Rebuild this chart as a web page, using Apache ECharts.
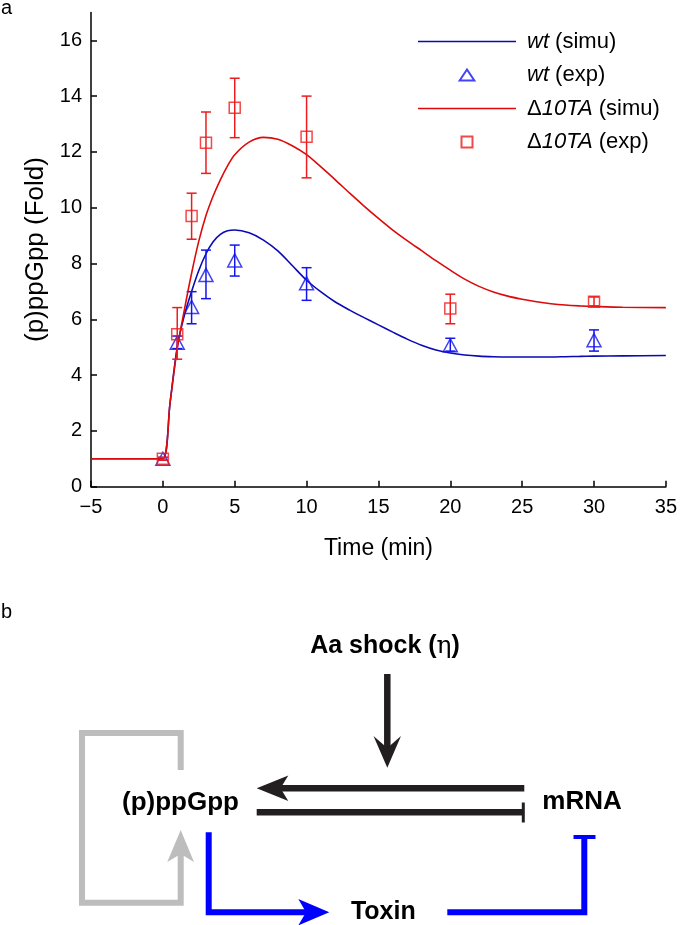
<!DOCTYPE html>
<html>
<head>
<meta charset="utf-8">
<script src="https://cdn.jsdelivr.net/npm/echarts@6/dist/echarts.min.js"></script>
<style>
html,body{margin:0;padding:0;background:#fff;}
#chart{width:680px;height:925px;}
</style>
</head>
<body>
<div id="chart"></div>
<script>
// ---------- data ----------
const simTime = [-5, -1, 0, 0.5, 1, 1.5, 2, 2.5, 3, 3.5, 4, 4.5, 5, 6, 7, 8, 9, 10, 11, 12, 13, 14, 15, 16, 17, 18, 19, 20, 21, 22, 23, 24, 25, 26, 27, 28, 29, 30, 32, 35];
const wtSimu = [1, 1, 1, 3.0, 5.0, 6.15, 7.0, 7.75, 8.35, 8.78, 9.04, 9.17, 9.2, 9.1, 8.84, 8.45, 7.93, 7.4, 6.98, 6.62, 6.33, 6.06, 5.8, 5.54, 5.29, 5.07, 4.9, 4.79, 4.72, 4.68, 4.66, 4.65, 4.65, 4.65, 4.65, 4.66, 4.67, 4.68, 4.69, 4.7];
const taSimu = [1, 1, 1, 3.0, 4.95, 6.35, 7.65, 8.8, 9.72, 10.42, 11.0, 11.5, 11.9, 12.35, 12.52, 12.45, 12.22, 11.9, 11.46, 11.0, 10.52, 10.06, 9.62, 9.2, 8.82, 8.46, 8.1, 7.76, 7.44, 7.18, 6.98, 6.83, 6.72, 6.63, 6.56, 6.51, 6.48, 6.46, 6.43, 6.42];

const expTime = [0, 1, 2, 3, 5, 10, 20, 30];
const wtExp   = [1.0, 5.16, 6.44, 7.59, 8.11, 7.29, 5.07, 5.25];
const wtLow   = [0.95, 4.95, 5.84, 6.74, 7.55, 6.68, 4.86, 4.86];
const wtHigh  = [1.05, 5.4, 6.99, 8.48, 8.66, 7.85, 5.32, 5.62];
const taExp   = [1.0, 5.46, 9.70, 12.33, 13.58, 12.54, 6.39, 6.63];
const taLow   = [0.95, 4.57, 8.87, 11.23, 12.51, 11.07, 5.84, 6.48];
const taHigh  = [1.05, 6.42, 10.52, 13.43, 14.64, 14.0, 6.9, 6.8];

const xTicks = [-5, 0, 5, 10, 15, 20, 25, 30, 35];
const yTicks = [0, 2, 4, 6, 8, 10, 12, 14, 16];

const seriesNames = ['wt (simu)', 'wt (exp)', '\u039410TA (simu)', '\u039410TA (exp)'];

// ---------- styles ----------
const FONT = '"Liberation Sans", Arial, Helvetica, sans-serif';
const BLUE_LINE = '#0a0ab4';
const BLUE_MK = '#1414f0';
const RED_LINE = '#dc0a0a';
const RED_MK = '#ee1c1c';

const zip2 = (a, b) => a.map((v, i) => [v, b[i]]);
const zip3 = (a, b, c) => a.map((v, i) => [v, b[i], c[i]]);

function errRender(color) {
  return function (params, api) {
    const x = api.value(0), lo = api.value(1), hi = api.value(2);
    const p1 = api.coord([x, lo]);
    const p2 = api.coord([x, hi]);
    const w = 5;
    const st = { stroke: color, lineWidth: 1.5, fill: null };
    return {
      type: 'group',
      children: [
        { type: 'line', shape: { x1: p1[0], y1: p1[1], x2: p2[0], y2: p2[1] }, style: st },
        { type: 'line', shape: { x1: p1[0] - w, y1: p1[1], x2: p1[0] + w, y2: p1[1] }, style: st },
        { type: 'line', shape: { x1: p2[0] - w, y1: p2[1], x2: p2[0] + w, y2: p2[1] }, style: st }
      ]
    };
  };
}

// ---------- diagram (panel b) ----------
const GRAY = '#bdbdbd', BLK = '#231f20', DBLUE = '#0000ff';
function ln(x1, y1, x2, y2, color, w) {
  return { type: 'line', shape: { x1, y1, x2, y2 }, style: { stroke: color, lineWidth: w } };
}
function pl(points, color, w) {
  return { type: 'polyline', shape: { points }, style: { stroke: color, lineWidth: w, fill: null, lineJoin: 'miter' } };
}
function pg(points, color) {
  return { type: 'polygon', shape: { points }, style: { fill: color } };
}
function tx(text, x, y, size, extra) {
  return { type: 'text', style: Object.assign({ text, x, y, fontSize: size, fontWeight: 'bold', fontFamily: FONT, fill: '#000', align: 'center', verticalAlign: 'middle' }, extra || {}) };
}

const diagram = [
  { type: 'text', style: { text: 'a', x: 1, y: 8, fontSize: 20, fontFamily: FONT, fill: '#000', verticalAlign: 'middle' } },
  { type: 'text', style: { text: 'b', x: 1, y: 612, fontSize: 20, fontFamily: FONT, fill: '#000', verticalAlign: 'middle' } },
  pl([[180.7, 770], [180.7, 733], [82, 733], [82, 902.7], [180.7, 902.7], [180.7, 852]], GRAY, 6),
  pg([[180.7, 830], [194, 862], [180.7, 854], [167.3, 862]], GRAY),
  pl([[208.7, 832.3], [208.7, 912.2], [306, 912.2]], DBLUE, 6),
  pg([[329.3, 912.2], [298.3, 899], [306, 912.2], [298.3, 925.4]], DBLUE),
  pl([[447.3, 912.2], [584.3, 912.2], [584.3, 837]], DBLUE, 6),
  ln(573.5, 837, 595.5, 837, DBLUE, 4),
  ln(280, 788.3, 524.3, 788.3, BLK, 6.5),
  pg([[256.7, 788.3], [288.3, 775.5], [280.5, 788.3], [288.3, 801]], BLK),
  ln(256.7, 812.3, 523.3, 812.3, BLK, 6.5),
  ln(523.3, 802.5, 523.3, 822.5, BLK, 3),
  ln(387.3, 674, 387.3, 750, BLK, 6.5),
  pg([[387.3, 767.7], [373.5, 736], [387.3, 748], [401, 736]], BLK),
  {
    type: 'text',
    style: {
      text: '{b|Aa shock (}{e|\u03b7}{b|)}', x: 385, y: 646, align: 'center', verticalAlign: 'middle',
      rich: {
        b: { fontSize: 25, fontWeight: 'bold', fontFamily: FONT, fill: '#000' },
        e: { fontSize: 25, fontWeight: 'normal', fontFamily: '"DejaVu Serif", "Liberation Serif", serif', fill: '#000' }
      }
    }
  },
  tx('(p)ppGpp', 180.5, 803.3, 26),
  tx('mRNA', 582, 801.7, 26),
  tx('Toxin', 383.3, 911.7, 25)
];

// ---------- chart ----------
const chart = echarts.init(document.getElementById('chart'), null, { renderer: 'canvas' });

const LINE_ICON = 'path://M0,0 L98,0 L98,1.6 L0,1.6 Z';
const TRI_ICON = 'path://M0,12 L8,0 L16,12 Z';
const SQ_ICON = 'path://M0,0 L11,0 L11,11 L0,11 Z';

const option = {
  animation: false,
  backgroundColor: '#fff',
  textStyle: { fontFamily: FONT },
  grid: { left: 91, right: 11, top: 12.4, bottom: 438.3, containLabel: false },
  legend: {
    data: [
      { name: seriesNames[0], icon: LINE_ICON, itemStyle: { color: BLUE_LINE, borderWidth: 0 } },
      { name: seriesNames[1], icon: TRI_ICON },
      { name: seriesNames[2], icon: LINE_ICON, itemStyle: { color: RED_LINE, borderWidth: 0 } },
      { name: seriesNames[3], icon: SQ_ICON }
    ],
    orient: 'vertical',
    left: 418,
    top: 28.5,
    padding: 0,
    itemWidth: 98,
    itemHeight: 11,
    itemGap: 7.5,
    selectedMode: false,
    symbolKeepAspect: true,
    textStyle: {
      fontSize: 22, color: '#000', fontFamily: FONT, lineHeight: 26, padding: [0, 0, 0, 6],
      rich: {
        i: { fontSize: 22, fontStyle: 'italic', color: '#000', fontFamily: FONT, lineHeight: 26 },
        n: { fontSize: 22, color: '#000', fontFamily: FONT, lineHeight: 26 }
      }
    },
    formatter: function (name) {
      if (name.indexOf('wt') === 0) return '{i|wt}{n|' + name.slice(2) + '}';
      return '{n|\u0394}{i|10TA}{n|' + name.slice(5) + '}';
    }
  },
  xAxis: {
    type: 'value',
    min: -5, max: 35, interval: 5,
    name: 'Time (min)',
    nameLocation: 'middle',
    nameGap: 50,
    nameTextStyle: { fontSize: 23, color: '#000', fontFamily: FONT },
    axisLine: { show: true, onZero: false, lineStyle: { color: '#000', width: 1.5 } },
    axisTick: { show: true, inside: true, length: 6, lineStyle: { color: '#000', width: 1.5 }, customValues: xTicks },
    axisLabel: {
      fontSize: 20, color: '#000', fontFamily: FONT, margin: 11, customValues: xTicks,
      formatter: v => (v < 0 ? '\u2212' + Math.abs(v) : String(v))
    },
    splitLine: { show: false }
  },
  yAxis: {
    type: 'value',
    min: 0, max: 17, interval: 2,
    name: '(p)ppGpp (Fold)',
    nameLocation: 'middle',
    nameGap: 42,
    nameTextStyle: { fontSize: 26, color: '#000', fontFamily: FONT },
    axisLine: { show: true, onZero: false, lineStyle: { color: '#000', width: 1.5 } },
    axisTick: { show: true, inside: true, length: 6, lineStyle: { color: '#000', width: 1.5 }, customValues: yTicks },
    axisLabel: { fontSize: 20, color: '#000', fontFamily: FONT, margin: 9, customValues: yTicks },
    splitLine: { show: false }
  },
  series: [
    {
      name: seriesNames[0], type: 'line', data: zip2(simTime, wtSimu),
      symbol: 'none', z: 2, smooth: 0.3,
      lineStyle: { color: BLUE_LINE, width: 1.6 }, itemStyle: { color: BLUE_LINE }
    },
    {
      name: 'wt err', type: 'custom', z: 3, data: zip3(expTime, wtLow, wtHigh),
      encode: { x: 0, y: [1, 2] }, renderItem: errRender(BLUE_MK)
    },
    {
      name: seriesNames[1], type: 'scatter', data: zip2(expTime, wtExp), z: 3,
      symbol: 'triangle', symbolSize: [14, 13],
      itemStyle: { color: 'rgba(255,255,255,0)', borderColor: BLUE_MK, borderWidth: 1.5 }
    },
    {
      name: seriesNames[2], type: 'line', data: zip2(simTime, taSimu),
      symbol: 'none', z: 4, smooth: 0.3,
      lineStyle: { color: RED_LINE, width: 1.6 }, itemStyle: { color: RED_LINE }
    },
    {
      name: 'ta err', type: 'custom', z: 5, data: zip3(expTime, taLow, taHigh),
      encode: { x: 0, y: [1, 2] }, renderItem: errRender(RED_MK)
    },
    {
      name: seriesNames[3], type: 'scatter', data: zip2(expTime, taExp), z: 5,
      symbol: 'rect', symbolSize: 11,
      itemStyle: { color: 'rgba(255,255,255,0)', borderColor: RED_MK, borderWidth: 1.5 }
    }
  ],
  graphic: { elements: diagram }
};

chart.setOption(option);
</script>
</body>
</html>
